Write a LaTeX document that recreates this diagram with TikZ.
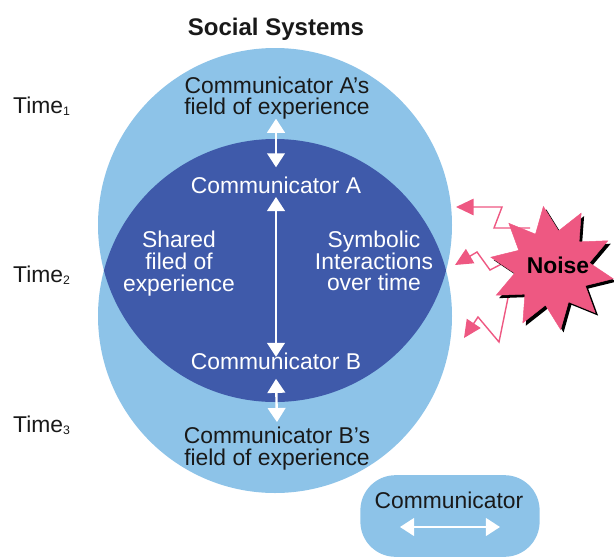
\documentclass[tikz,border=0pt]{standalone}
\usepackage{fontspec}
\setmainfont{Liberation Sans}
\usetikzlibrary{arrows.meta,shapes.geometric,shadows,backgrounds}

\definecolor{fieldblue}{RGB}{141,195,232}
\definecolor{sharedblue}{RGB}{63,90,170}
\definecolor{noisepink}{RGB}{238,88,130}
\definecolor{inkgray}{RGB}{25,25,25}

\tikzset{
  txt/.style={font=\fontsize{19.5}{18.5}\selectfont, align=center, inner sep=0pt, text=inkgray},
  whitetxt/.style={txt, text=white},
  twoway/.style={white, line width=2pt, {Triangle[width=15pt,length=12pt]}-{Triangle[width=15pt,length=12pt]}},
  noisy/.style={noisepink, line width=1.2pt, line join=miter, -{Triangle[width=14pt,length=15pt]}},
}

\begin{document}
\begin{tikzpicture}[x=0.03cm,y=-0.03cm]
            \useasboundingbox (0,0) rectangle (614,556);

            % Fields of experience
            \fill[fieldblue] (275,225) circle (177);
            \fill[fieldblue] (275,316) circle (177);
            \begin{scope}
                \clip (275,225) circle (177);
                \fill[sharedblue] (275,316) circle (177);
            \end{scope}

            % Texts
            \node[txt, font=\fontsize{20.5}{24}\selectfont\bfseries] (title) at (276,29) {Social Systems};
            \node[txt] (fieldA) at (277,98) {Communicator A's\\field of experience};
            \node[whitetxt, anchor=base] (commA) at (276,193) {Communicator A};
            \node[whitetxt] (shared) at (179,263.5) {Shared\\filed of\\experience};
            \node[whitetxt] (symbolic) at (374,261) {Symbolic\\Interactions\\over time};
            \node[whitetxt, anchor=base] (commB) at (276,369) {Communicator B};
            \node[txt] (fieldB) at (277,448.5) {Communicator B's\\field of experience};

            \foreach \k/\y in {1/113, 2/282, 3/432} {
                \node[txt, anchor=base west] (time\k) at (13,\y)
                    {Time\raisebox{-2.5pt}{\fontsize{10.5}{10.5}\selectfont\k}};
            }

            % Arrows between the fields
            \draw[twoway] (fieldA.south) ++(-1,-1) -- ([yshift=7.6pt]commA.north);
            \draw[twoway, shorten <=3pt, shorten >=-4pt] (commA.south) -- (commB.north);
            \draw[twoway] ([yshift=-8pt]commB.south) -- ([yshift=4pt]fieldB.north);

            % Noise
            \node[star, star points=10, star point ratio=1.65, minimum size=106pt,
                  inner sep=0pt, fill=noisepink, draw=noisepink, rotate=8,
                  drop shadow={shadow xshift=2.5pt, shadow yshift=-2.5pt, fill=black, opacity=1}] (noise) at (552,268) {};
            \node[txt, font=\fontsize{19.5}{20}\selectfont\bfseries, text=black] (noisetxt) at (558,265) {Noise};

            \begin{pgfonlayer}{background}
                \draw[noisy] ([shift={(-22,-40)}]noise.center) -- (494,228) -- (502,207) -- (456,207);
                \draw[noisy] ([shift={(-37,-11)}]noise.center) -- (490,270) -- (477,252) -- (455,265);
                \draw[noisy] ([shift={(-32,17)}]noise.center) -- (510,288) -- (499,342) -- (478,317) -- (464,338);
            \end{pgfonlayer}

            % Legend
            \node[rectangle, rounded corners=30pt, fill=fieldblue, minimum width=180*0.85pt,
                  minimum height=82*0.85pt, inner sep=0pt] (legend) at (450,516) {};
            \node[txt, anchor=base] (legtxt) at (449,508) {Communicator};
            \coordinate (legl) at (400,527);
            \coordinate (legr) at (500,527);
            \draw[twoway] (legl) -- (legr);
\end{tikzpicture}
\end{document}
